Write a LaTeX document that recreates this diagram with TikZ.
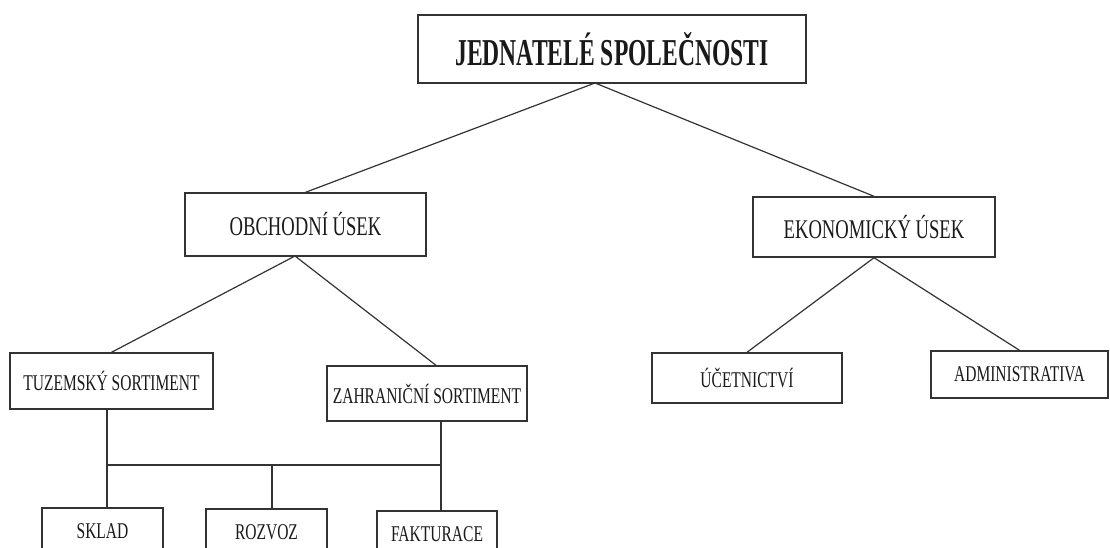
\documentclass[tikz,border=0pt]{standalone}
\usepackage{fontspec}
\setmainfont{Liberation Serif}[FakeStretch=0.69]
\newfontfamily\headfont{Liberation Serif}[FakeStretch=0.62]
\usetikzlibrary{positioning,calc}
\begin{document}
\begin{tikzpicture}[x=0.5pt,y=-0.5pt,
  box/.style={draw=black!80,line width=0.7pt,inner sep=0pt,text=black!90},
  headbox/.style={box,font=\headfont\bfseries\fontsize{19}{21}\selectfont},
  midbox/.style={box,font=\fontsize{13.5}{15}\selectfont},
  smallbox/.style={box,font=\fontsize{11.25}{13}\selectfont},
  link/.style={draw=black!80,line width=0.6pt}]
\useasboundingbox (0,0) rectangle (1110,547);
\node[headbox,minimum width=194pt,minimum height=34pt] (jed) at (612,49) {JEDNATELÉ SPOLEČNOSTI};
\node[midbox,minimum width=120.5pt,minimum height=31.5pt] (obch) at (305.5,224.5) {OBCHODNÍ ÚSEK};
\node[midbox,minimum width=121pt,minimum height=30pt] (ekon) at (874,227) {EKONOMICKÝ ÚSEK};
\node[smallbox,minimum width=101.5pt,minimum height=28pt] (tuz) at (111.5,381) {TUZEMSKÝ SORTIMENT};
\node[smallbox,minimum width=100pt,minimum height=27.5pt] (zahr) at (427,393.5) {ZAHRANIČNÍ SORTIMENT};
\node[smallbox,minimum width=95pt,minimum height=25pt] (ucet) at (747,378) {ÚČETNICTVÍ};
\node[smallbox,minimum width=88.5pt,minimum height=23.5pt] (admin) at (1019.5,374.5) {ADMINISTRATIVA};
\node[smallbox,minimum width=60.5pt,minimum height=23pt] (sklad) at (102.5,531) {SKLAD};
\node[smallbox,minimum width=60.5pt,minimum height=23pt] (rozvoz) at (266.5,532) {ROZVOZ};
\node[smallbox,minimum width=60pt,minimum height=23pt] (fakt) at (437,534) {FAKTURACE};
\coordinate (jedj) at (595,83);
\coordinate (obchj) at (295,256);
\coordinate (busl) at (107,465);
\coordinate (busm) at (272,465);
\coordinate (busr) at (441,465);
\draw[link] (jedj) -- (obch.north);
\draw[link] (jedj) -- (ekon.north);
\draw[link] (obchj) -- (tuz.north);
\draw[link] (obchj) -- ([xshift=4.5pt]zahr.north);
\draw[link] (ekon.south) -- (ucet.north);
\draw[link] (ekon.south) -- (admin.north);
\draw[link] (tuz.south -| busl) -- (sklad.north -| busl);
\draw[link] (zahr.south -| busr) -- (fakt.north -| busr);
\draw[link] (busl) -- (busr);
\draw[link] (busm) -- (rozvoz.north -| busm);
\end{tikzpicture}
\end{document}
